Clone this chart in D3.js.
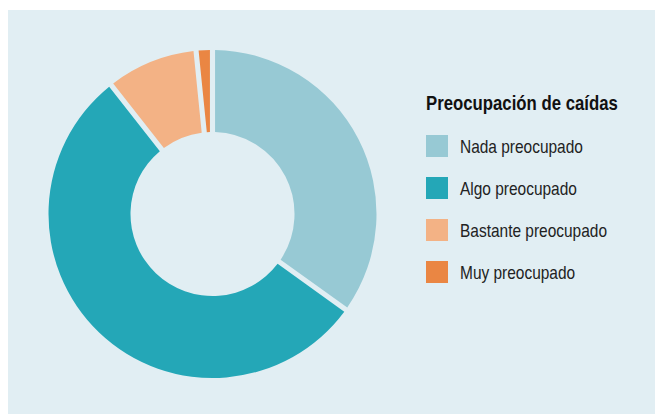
<!DOCTYPE html>
<html>
<head>
<meta charset="utf-8">
<script src="https://cdn.jsdelivr.net/npm/d3@7"></script>
<style>
  body { margin: 0; background: #fff; }
  svg { display: block; }
</style>
</head>
<body>
<div id="chart"></div>
<script>
// data (percent)
const categories = ["Nada preocupado", "Algo preocupado", "Bastante preocupado", "Muy preocupado"];
const values = [34.9, 54.5, 9.0, 1.6];
const colors = ["#97c9d4", "#24a7b7", "#f3b285", "#ea8643"];
const legendTitle = "Preocupación de caídas";

const width = 655, height = 414;
const cx = 212.5, cy = 214;
const outerR = 164, innerR = 82;

const svg = d3.select("#chart")
  .append("svg")
  .attr("width", width)
  .attr("height", height);

// panel
svg.append("rect")
  .attr("x", 8)
  .attr("y", 10)
  .attr("width", width - 8)
  .attr("height", height - 10)
  .attr("fill", "#e1eef3");

const pie = d3.pie().sort(null).value(d => d);
const arc = d3.arc()
  .innerRadius(innerR)
  .outerRadius(outerR)
  .padAngle(0.028);

const g = svg.append("g")
  .attr("transform", "translate(" + cx + "," + cy + ")");

g.selectAll("path")
  .data(pie(values))
  .enter()
  .append("path")
  .attr("d", arc)
  .attr("fill", (d, i) => colors[i]);

// legend, condensed type faked with a horizontal squeeze
const font = "'Liberation Sans', Arial, sans-serif";
const squeeze = 0.86;
const legend = svg.append("g").attr("transform", "translate(426,0)");

legend.append("text")
  .attr("transform", "translate(0,110) scale(" + squeeze + ",1)")
  .attr("font-family", font)
  .attr("font-weight", "bold")
  .attr("font-size", 19.5)
  .attr("fill", "#111")
  .text(legendTitle);

const items = legend.selectAll("g.item")
  .data(categories)
  .enter()
  .append("g")
  .attr("class", "item")
  .attr("transform", (d, i) => "translate(0," + (135 + i * 42) + ")");

items.append("rect")
  .attr("width", 22)
  .attr("height", 22)
  .attr("fill", (d, i) => colors[i]);

items.append("text")
  .attr("transform", "translate(34,18) scale(" + squeeze + ",1)")
  .attr("font-family", font)
  .attr("font-size", 18)
  .attr("fill", "#222")
  .text(d => d);
</script>
</body>
</html>
